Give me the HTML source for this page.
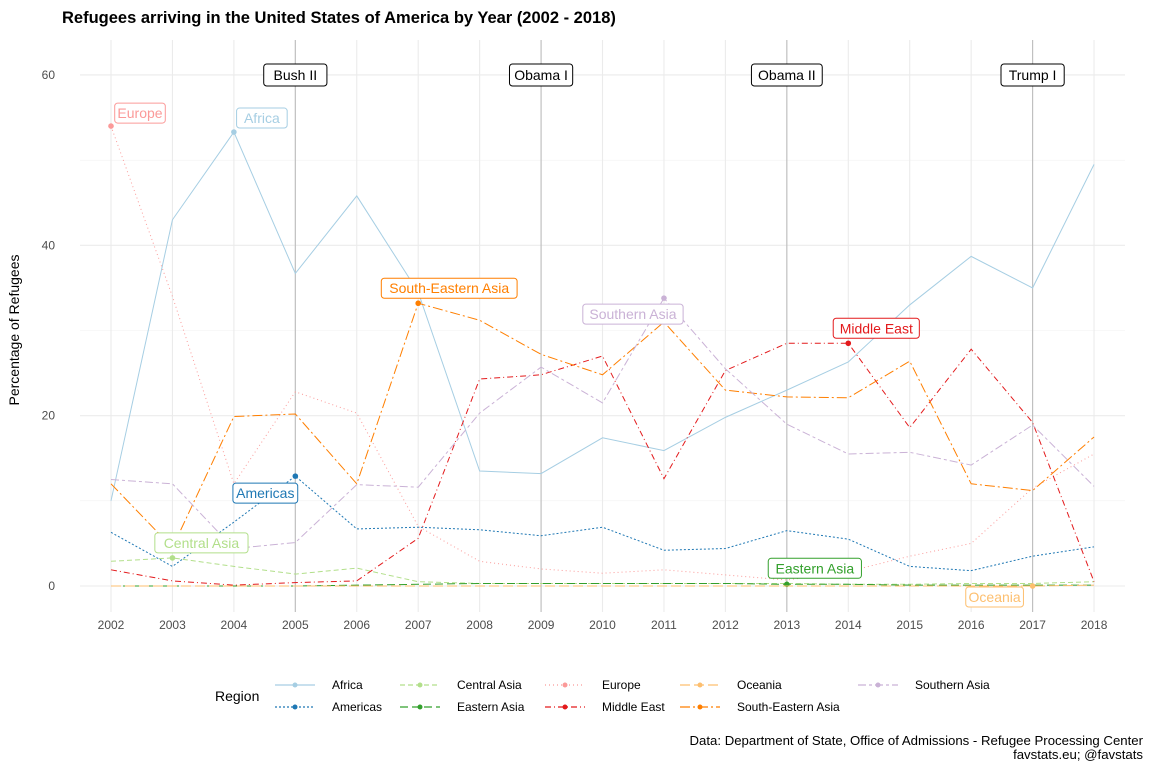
<!DOCTYPE html>
<html><head><meta charset="utf-8">
<style>
body{margin:0;background:#fff;font-family:"Liberation Sans",sans-serif;}
svg text{font-family:"Liberation Sans",sans-serif;}
</style></head>
<body>
<svg id="chart" width="1152" height="768" xmlns="http://www.w3.org/2000/svg">
<rect width="1152" height="768" fill="#fff"/>
<text x="62" y="23" font-size="16.5" font-weight="bold">Refugees arriving in the United States of America by Year (2002 - 2018)</text>
<g id="grid"></g>
<g id="eras"></g>
<g id="series"></g>
<g id="labels"></g>
<g id="axes"></g>
<text transform="translate(19,330) rotate(-90)" text-anchor="middle" font-size="14">Percentage of Refugees</text>
<g id="legend"></g>
<text x="1143" y="745" text-anchor="end" font-size="13.2">Data: Department of State, Office of Admissions - Refugee Processing Center</text>
<text x="1143" y="759" text-anchor="end" font-size="13.2">favstats.eu; @favstats</text>
</svg>
<script>
const years=[2002,2003,2004,2005,2006,2007,2008,2009,2010,2011,2012,2013,2014,2015,2016,2017,2018];
const yTicks=[0,20,40,60];
const africa=[10,43,53.3,36.7,45.8,34.5,13.5,13.2,17.4,15.9,19.8,23,26.3,33,38.7,35,49.5];
const americas=[6.3,2.3,7.5,12.9,6.7,6.9,6.6,5.9,6.9,4.2,4.4,6.5,5.5,2.3,1.8,3.5,4.6];
const centralAsia=[2.9,3.3,2.3,1.4,2.1,0.5,0.3,0.3,0.3,0.3,0.3,0.3,0.2,0.2,0.3,0.3,0.5];
const easternAsia=[0,0,0,0,0.1,0.2,0.3,0.3,0.3,0.3,0.3,0.2,0.2,0.1,0.1,0.1,0.1];
const europe=[54,34,12,22.8,20.3,7,2.9,2,1.5,1.9,1.3,0.7,1.7,3.5,5,11.5,15.5];
const middleEast=[1.9,0.6,0.1,0.4,0.6,5.6,24.3,24.8,27,12.6,25.3,28.5,28.5,18.6,27.8,19.2,0.5];
const oceania=[0,0,0,0,0,0,0,0,0,0,0,0,0,0,0,0,0.1];
const seAsia=[12,4.5,19.9,20.2,12,33.2,31.2,27.2,24.8,31,23,22.2,22.1,26.4,12,11.2,17.5];
const southernAsia=[12.5,12,4.4,5.1,11.9,11.6,20.3,25.7,21.5,33.8,25.5,19,15.5,15.7,14.2,18.9,11.7];
const eraNames=["Bush II","Obama I","Obama II","Trump I"];
const eraYears=[2005,2009,2013,2017];

const NS="http://www.w3.org/2000/svg";
const X=y=>111+(y-2002)*61.44;
const Y=v=>586-v*8.517;
function mk(p,t,a){const e=document.createElementNS(NS,t);for(const k in a)e.setAttribute(k,a[k]);document.getElementById(p).appendChild(e);return e;}

const series=[
 {n:"Africa",d:africa,c:"#a6cee3",dash:"",lab:2004,dy:-14,dx:28},
 {n:"Americas",d:americas,c:"#1f78b4",dash:"2,2",lab:2005,dy:17,dx:-30},
 {n:"Central Asia",d:centralAsia,c:"#b2df8a",dash:"5,3",lab:2003,dy:-15,dx:29},
 {n:"Eastern Asia",d:easternAsia,c:"#33a02c",dash:"8,4",lab:2013,dy:-16,dx:28},
 {n:"Europe",d:europe,c:"#fb9a99",dash:"1,3",lab:2002,dy:-13,dx:29},
 {n:"Middle East",d:middleEast,c:"#e31a1c",dash:"6,3,1,3",lab:2014,dy:-15,dx:28},
 {n:"Oceania",d:oceania,c:"#fdbf6f",dash:"10,4",lab:2017,dy:11,dx:-38},
 {n:"South-Eastern Asia",d:seAsia,c:"#ff7f00",dash:"10,3,2,3",lab:2007,dy:-15,dx:31},
 {n:"Southern Asia",d:southernAsia,c:"#cab2d6",dash:"8,3,3,3",lab:2011,dy:16,dx:-31}
];

[10,30,50].forEach(v=>{const l=mk("grid","line",{x1:80,x2:1125,y1:Y(v),y2:Y(v),stroke:"#f2f2f2","stroke-width":0.6});

});
yTicks.forEach(v=>{const l=mk("grid","line",{x1:80,x2:1125,y1:Y(v),y2:Y(v),stroke:"#ebebeb","stroke-width":1.1});


const t=mk("axes","text",{x:55,y:Y(v)+4,"text-anchor":"end","font-size":12,fill:"#4d4d4d"});t.textContent=v;

});
years.forEach(yr=>{const l=mk("grid","line",{x1:X(yr),x2:X(yr),y1:40,y2:612,stroke:"#ebebeb","stroke-width":1.1});


const t=mk("axes","text",{x:X(yr),y:629,"text-anchor":"middle","font-size":12,fill:"#4d4d4d"});t.textContent=yr;

});

eraYears.forEach((yr,i)=>{const l=mk("eras","line",{x1:X(yr),x2:X(yr),y1:40,y2:612,stroke:"#bdbdbd","stroke-width":1.1});


const w=eraNames[i].length*7.6+10;
const r=mk("eras","rect",{x:X(yr)-w/2,y:Y(60)-11,width:w,height:22,rx:3,fill:"#fff",stroke:"#000"});


const t=mk("eras","text",{x:X(yr),y:Y(60)+5,"text-anchor":"middle","font-size":14});t.textContent=eraNames[i];

});

series.forEach(s=>{
 const p=mk("series","polyline",{points:s.d.map((v,i)=>X(years[i])+","+Y(v)).join(" "),fill:"none",stroke:s.c,"stroke-width":1,"stroke-dasharray":s.dash});
 
 
 const i=years.indexOf(s.lab);const px=X(s.lab),py=Y(s.d[i]);
 const c=mk("series","circle",{cx:px,cy:py,r:2.8,fill:s.c});
 
 
 const w=s.n.length*7.1+8,cx=px+s.dx,cy=py+s.dy;
 const r=mk("labels","rect",{x:cx-w/2,y:cy-10,width:w,height:20,rx:3,fill:"#fff",stroke:s.c});
 
 
 const t=mk("labels","text",{x:cx,y:cy+5,"text-anchor":"middle","font-size":14,fill:s.c});t.textContent=s.n;
 
 
});

const lt=mk("legend","text",{x:215,y:701,"font-size":14});lt.textContent="Region";


const colX=[275,400,545,680,858];
series.forEach((s,k)=>{const col=Math.floor(k/2),row=k%2;const x=colX[col],y=685+row*22;
 const l=mk("legend","line",{x1:x,x2:x+40,y1:y,y2:y,stroke:s.c,"stroke-width":1.2,"stroke-dasharray":s.dash});
 
 
 const c=mk("legend","circle",{cx:x+20,cy:y,r:2.5,fill:s.c});
 
 
 const t=mk("legend","text",{x:x+57,y:y+4,"font-size":12});t.textContent=s.n;
 
 });
</script>
</body></html>
